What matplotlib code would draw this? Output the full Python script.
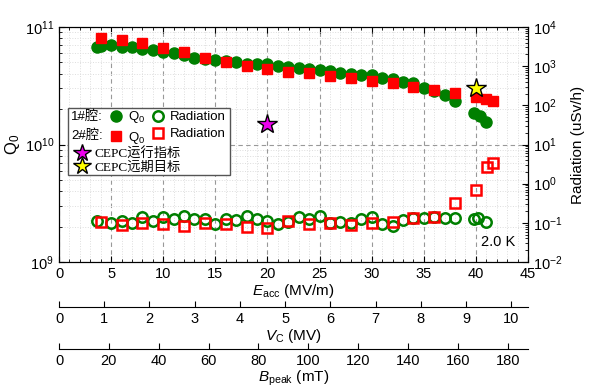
import numpy as np
import matplotlib
matplotlib.use("Agg")
import matplotlib.pyplot as plt
from matplotlib.lines import Line2D
from matplotlib.patches import Rectangle

plt.rcParams['font.family'] = ['Liberation Sans', 'Noto Sans CJK SC']
plt.rcParams['mathtext.fontset'] = 'custom'
plt.rcParams['mathtext.rm'] = 'Liberation Sans'
plt.rcParams['mathtext.it'] = 'Liberation Sans:italic'
plt.rcParams['mathtext.default'] = 'regular'
plt.rcParams['axes.unicode_minus'] = False

# cavity 1 Q0
e1_q = [3.6, 4, 5, 6, 7, 8, 9, 10, 11, 12, 13, 14, 15, 16, 17, 18, 19, 20, 21, 22,
        23, 24, 25, 26, 27, 28, 29, 30, 31, 32, 33, 34, 35, 36, 37, 38, 39.8, 40.4, 41]
q1 = [6.8, 6.9, 7.0, 6.8, 6.7, 6.5, 6.4, 6.15, 6.05, 5.75, 5.5, 5.35, 5.24, 5.15, 4.99,
      4.87, 4.84, 4.8, 4.67, 4.6, 4.47, 4.42, 4.3, 4.2, 4.08, 3.98, 3.9, 3.9, 3.7, 3.6,
      3.38, 3.32, 3.04, 2.87, 2.64, 2.36, 1.85, 1.75, 1.56]

# cavity 2 Q0
e2_q = [4, 6, 8, 10, 12, 14, 16, 18, 20, 22, 24, 26, 28, 30, 32, 34, 36, 38, 40, 41, 41.6]
q2 = [8.1, 7.74, 7.27, 6.59, 6.09, 5.48, 4.99, 4.66, 4.4, 4.17, 4.03, 3.83, 3.66, 3.47,
      3.32, 3.1, 2.91, 2.73, 2.52, 2.43, 2.35]

# cavity 1 radiation (uSv/h)
e1_r = [3.6, 5, 6, 7, 8, 9, 10, 11, 12, 13, 14, 15, 16, 17, 18, 19, 20, 21, 22, 23, 24,
        25, 26, 27, 28, 29, 30, 31, 32, 33, 34, 35, 36, 37, 38, 39.8, 40.2, 41]
r1 = [0.113, 0.098, 0.111, 0.098, 0.144, 0.113, 0.139, 0.125, 0.151, 0.123, 0.123,
      0.096, 0.125, 0.118, 0.151, 0.123, 0.113, 0.094, 0.108, 0.139, 0.123, 0.151,
      0.098, 0.108, 0.098, 0.127, 0.144, 0.094, 0.084, 0.118, 0.131, 0.131, 0.144,
      0.131, 0.131, 0.123, 0.131, 0.108]

# cavity 2 radiation
e2_r = [4, 6, 8, 10, 12, 14, 16, 18, 20, 22, 24, 26, 28, 30, 32, 34, 36, 38, 40, 41.1, 41.6]
r2 = [0.107, 0.088, 0.101, 0.094, 0.083, 0.101, 0.094, 0.080, 0.073, 0.113, 0.094,
      0.097, 0.088, 0.101, 0.107, 0.131, 0.144, 0.327, 0.69, 2.72, 3.44]

# CEPC specs
spec_e = [20]
spec_q = [1.5e10]
goal_e = [40]
goal_q = [3.0e10]

L_eff = 0.2305      # m, V_C = Eacc * L
bpk_ratio = 4.18    # mT/(MV/m)

green = '#007f00'
red = '#ff0000'

fig = plt.figure(figsize=(6, 3.88), dpi=100)
ax = fig.add_axes([59 / 600, 1 - 262 / 388, 469 / 600, 235 / 388])

ax.plot(e1_q, np.array(q1) * 1e10, 'o', color=green, ms=8, mec=green, zorder=3)
ax.plot(e2_q, np.array(q2) * 1e10, 's', color=red, ms=7.5, mec=red, zorder=4)
ax.plot(spec_e, spec_q, '*', color='#ee00ee', mec='black', mew=1, ms=15, zorder=5)
ax.plot(goal_e, goal_q, '*', color='#ffff00', mec='black', mew=1, ms=15, zorder=5)

ax.set_yscale('log')
ax.set_xlim(0, 45)
ax.set_ylim(1e9, 1e11)
ax.set_xticks(np.arange(0, 46, 5))
ax.set_xticks(np.arange(0, 46, 1), minor=True)
ax.grid(True, which='major', axis='x', ls=(0, (4, 3)), color='#999999', lw=0.8)
ax.grid(True, which='minor', axis='x', ls=':', color='#dddddd', lw=0.7)
ax.grid(True, which='major', axis='y', ls=(0, (4, 3)), color='#999999', lw=0.8)
ax.grid(True, which='minor', axis='y', ls=':', color='#dddddd', lw=0.7)
ax.set_axisbelow(True)
ax.tick_params(which='both', direction='in', top=True, right=False, labelsize=10.5)
ax.tick_params(which='major', length=4)
ax.tick_params(which='minor', length=2)
ax.set_ylabel('$Q_0$', fontsize=12, labelpad=2)
ax.set_xlabel(r'$\mathit{E}_{\mathrm{acc}}$ (MV/m)', fontsize=11, labelpad=1)

ax2 = ax.twinx()
ax2.plot(e1_r, r1, 'o', mfc='none', mec=green, mew=1.8, ms=7.5, zorder=3)
ax2.plot(e2_r, r2, 's', mfc='none', mec=red, mew=1.8, ms=7, zorder=4)
ax2.set_yscale('log')
ax2.set_ylim(1e-2, 1e4)
ax2.tick_params(which='both', direction='in', labelsize=10.5)
ax2.tick_params(which='major', length=4)
ax2.tick_params(which='minor', length=2)
ax2.set_ylabel('Radiation (uSv/h)', fontsize=11, labelpad=6)

ax2.text(0.972, 0.085, '2.0 K', transform=ax2.transAxes, ha='right', va='center', fontsize=10.5)

# secondary scales
secv = ax.secondary_xaxis(-0.191, functions=(lambda e: e * L_eff, lambda v: v / L_eff))
secv.set_xticks(np.arange(0, 11, 1))
secv.tick_params(direction='in', length=4, labelsize=10.5)
secv.set_xlabel(r'$\mathit{V}_{\mathrm{C}}$ (MV)', fontsize=11, labelpad=1)

secb = ax.secondary_xaxis(-0.370, functions=(lambda e: e * bpk_ratio, lambda b: b / bpk_ratio))
secb.set_xticks(np.arange(0, 181, 20))
secb.tick_params(direction='in', length=4, labelsize=10.5)
secb.set_xlabel(r'$\mathit{B}_{\mathrm{peak}}$ (mT)', fontsize=11, labelpad=1)

# legend
frame = Rectangle((0.019, 0.370), 0.346, 0.285, transform=ax2.transAxes,
                  facecolor='white', edgecolor='#555555', lw=1, zorder=10)
ax2.add_patch(frame)
ax2.text(0.026, 0.617, '1#腔:', transform=ax2.transAxes, ha='left', va='center',
         fontsize=9.5, zorder=11)
ax2.text(0.026, 0.540, '2#腔:', transform=ax2.transAxes, ha='left', va='center',
         fontsize=9.5, zorder=11)

hA = [Line2D([], [], ls='none', marker='o', color=green, ms=8),
      Line2D([], [], ls='none', marker='s', color=red, ms=7.5),
      Line2D([], [], ls='none', marker='o', mfc='none', mec=green, mew=1.8, ms=7.5),
      Line2D([], [], ls='none', marker='s', mfc='none', mec=red, mew=1.8, ms=7)]
legA = ax2.legend(hA, ['$Q_0$', '$Q_0$', 'Radiation', 'Radiation'], ncol=2,
                  loc='upper left', bbox_to_anchor=(0.110, 0.650), frameon=False,
                  borderpad=0, borderaxespad=0, handlelength=0.8, handletextpad=0.5,
                  columnspacing=0.6, labelspacing=0.36, fontsize=9.5)
legA.set_zorder(12)
ax2.add_artist(legA)

hB = [Line2D([], [], ls='none', marker='*', color='#ee00ee', mec='black', mew=1, ms=13),
      Line2D([], [], ls='none', marker='*', color='#ffff00', mec='black', mew=1, ms=13)]
legB = ax2.legend(hB, ['CEPC运行指标', 'CEPC远期目标'], loc='upper left',
                  bbox_to_anchor=(0.034, 0.485), frameon=False, borderpad=0,
                  borderaxespad=0, handlelength=1.0, handletextpad=0.5,
                  labelspacing=0.05, prop={'family': ['Liberation Serif', 'Noto Sans CJK SC'], 'size': 9.5})
legB.set_zorder(12)

fig.savefig('out.png', dpi=100)
